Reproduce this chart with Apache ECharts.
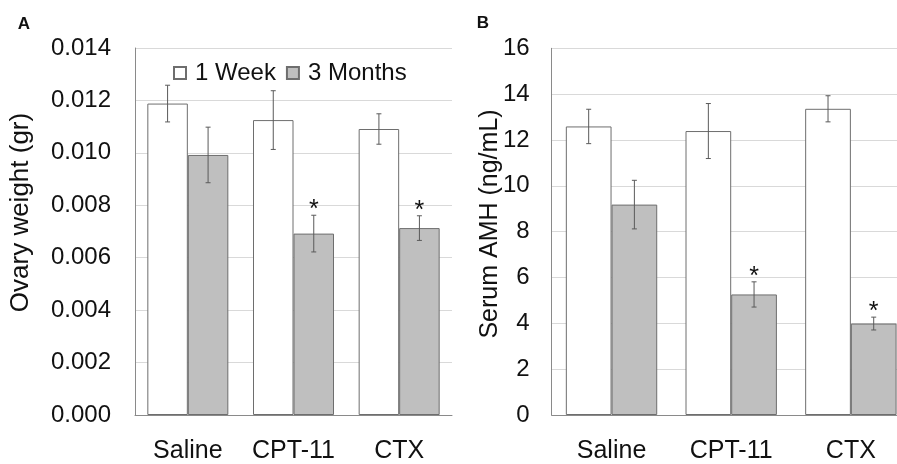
<!DOCTYPE html>
<html>
<head>
<meta charset="utf-8">
<script src="https://cdn.jsdelivr.net/npm/echarts@6/dist/echarts.min.js"></script>
<style>
html,body{margin:0;padding:0;background:#fff;overflow:hidden;width:897px;height:464px;}
#chart{width:930px;height:464px;}
</style>
</head>
<body>
<div id="chart"></div>
<script>
const categories = ['Saline', 'CPT-11', 'CTX'];
const seriesNames = ['1 Week', '3 Months'];
// Panel A: Ovary weight (gr)
const weekA = [0.01188, 0.01125, 0.01091];
const weekAErr = [0.00070, 0.00112, 0.00058];
const monthsA = [0.00992, 0.00692, 0.00713];
const monthsAErr = [0.00106, 0.00070, 0.00047];
// Panel B: Serum AMH (ng/mL)
const weekB = [12.59, 12.39, 13.36];
const weekBErr = [0.75, 1.20, 0.57];
const monthsB = [9.18, 5.26, 3.99];
const monthsBErr = [1.06, 0.55, 0.28];
// significance markers (*) for 3 Months
const sigMonths = [0, 1, 1];
const titleA = 'Ovary weight (gr)';
const titleB = 'Serum AMH (ng/mL)';

const FONT = 'Liberation Sans, Arial, sans-serif';
const barWA = 40.5, barWB = 45.7;

function errData(vals, errs, side, sig) {
  return vals.map((v, i) => [i, v, errs[i], side, sig ? sig[i] : 0]);
}
function makeErr(halfW) {
  return function (params, api) {
    const i = api.value(0), v = api.value(1), e = api.value(2), side = api.value(3), s = api.value(4);
    const x = api.coord([i, v])[0] + side * halfW;
    const yT = api.coord([i, v + e])[1];
    const yB = api.coord([i, v - e])[1];
    const st = { stroke: '#5a5a5a', lineWidth: 1 };
    const ch = [
      { type: 'line', shape: { x1: x, y1: yT, x2: x, y2: yB }, style: st },
      { type: 'line', shape: { x1: x - 2.5, y1: yT, x2: x + 2.5, y2: yT }, style: st },
      { type: 'line', shape: { x1: x - 2.5, y1: yB, x2: x + 2.5, y2: yB }, style: st }
    ];
    if (s) {
      ch.push({ type: 'text', style: { text: '*', x: x, y: yT - 5, align: 'center', verticalAlign: 'middle', fontSize: 25, fontFamily: FONT, fill: '#111' } });
    }
    return { type: 'group', children: ch };
  };
}

const chart = echarts.init(document.getElementById('chart'), null, { renderer: 'canvas' });
const axisLine = { show: true, lineStyle: { color: '#8a8a8a', width: 1 } };
const splitLine = { show: true, lineStyle: { color: '#d9d9d9', width: 1 } };
const weekStyle = { color: '#ffffff', borderColor: '#6e6e6e', borderWidth: 1 };
const monthStyle = { color: '#bfbfbf', borderColor: '#6e6e6e', borderWidth: 1 };

chart.setOption({
  backgroundColor: '#ffffff',
  animation: false,
  textStyle: { fontFamily: FONT },
  legend: {
    data: seriesNames, left: 168, top: 56, icon: 'rect', itemWidth: 12, itemHeight: 12, itemGap: 10,
    textStyle: { fontSize: 24, color: '#111', fontFamily: FONT, padding: [0, 0, 0, 4] }
  },
  grid: [
    { left: 135, top: 48, width: 317, height: 368.7 },
    { left: 551.7, top: 48.3, width: 359, height: 369 }
  ],
  xAxis: [0, 1].map(g => ({
    type: 'category', gridIndex: g, data: categories, axisLine: axisLine, axisTick: { show: false },
    axisLabel: { interval: 0, hideOverlap: false, fontSize: 25, color: '#111', margin: 24, fontFamily: FONT }
  })),
  yAxis: [
    { type: 'value', gridIndex: 0, min: 0, max: 0.014, interval: 0.002, axisLine: axisLine, splitLine: splitLine,
      axisTick: { show: false }, axisLabel: { fontSize: 24, color: '#111', margin: 24, fontFamily: FONT, formatter: v => v.toFixed(3) } },
    { type: 'value', gridIndex: 1, min: 0, max: 16, interval: 2, axisLine: axisLine, splitLine: splitLine,
      axisTick: { show: false }, axisLabel: { fontSize: 24, color: '#111', margin: 22, fontFamily: FONT } }
  ],
  graphic: [
    { type: 'text', x: 24, y: 24, style: { text: 'A', fontSize: 17, fontWeight: 'bold', fontFamily: FONT, fill: '#111', align: 'center', verticalAlign: 'middle' } },
    { type: 'text', x: 483, y: 23, style: { text: 'B', fontSize: 17, fontWeight: 'bold', fontFamily: FONT, fill: '#111', align: 'center', verticalAlign: 'middle' } },
    { type: 'text', x: 21, y: 212.5, rotation: Math.PI / 2, style: { text: titleA, fontSize: 26, fontFamily: FONT, fill: '#111', align: 'center', verticalAlign: 'middle' } },
    { type: 'text', x: 490, y: 224, rotation: Math.PI / 2, style: { text: titleB, fontSize: 25, fontFamily: FONT, fill: '#111', align: 'center', verticalAlign: 'middle' } }
  ],
  series: [
    { name: seriesNames[0], type: 'bar', xAxisIndex: 0, yAxisIndex: 0, data: weekA, barWidth: barWA, barGap: '0%', itemStyle: weekStyle },
    { name: seriesNames[1], type: 'bar', xAxisIndex: 0, yAxisIndex: 0, data: monthsA, barWidth: barWA, barGap: '0%', itemStyle: monthStyle },
    { name: seriesNames[0], type: 'bar', xAxisIndex: 1, yAxisIndex: 1, data: weekB, barWidth: barWB, barGap: '0%', itemStyle: weekStyle },
    { name: seriesNames[1], type: 'bar', xAxisIndex: 1, yAxisIndex: 1, data: monthsB, barWidth: barWB, barGap: '0%', itemStyle: monthStyle },
    { type: 'custom', xAxisIndex: 0, yAxisIndex: 0, z: 5, renderItem: makeErr(barWA / 2), data: errData(weekA, weekAErr, -1).concat(errData(monthsA, monthsAErr, 1, sigMonths)) },
    { type: 'custom', xAxisIndex: 1, yAxisIndex: 1, z: 5, renderItem: makeErr(barWB / 2), data: errData(weekB, weekBErr, -1).concat(errData(monthsB, monthsBErr, 1, sigMonths)) }
  ]
});
</script>
</body>
</html>
